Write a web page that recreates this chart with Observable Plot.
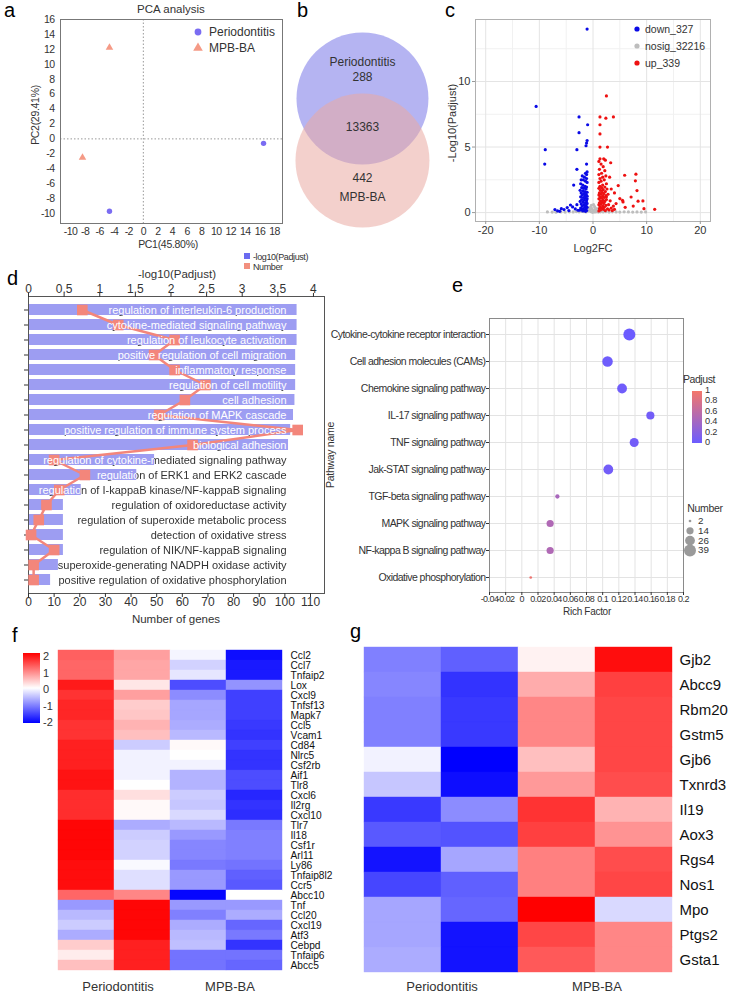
<!DOCTYPE html>
<html><head><meta charset="utf-8">
<script src="https://cdn.jsdelivr.net/npm/d3@7"></script>
<script src="https://cdn.jsdelivr.net/npm/@observablehq/plot@0.6"></script>
<style>
html,body{margin:0;padding:0;background:#fff;}
#root{position:relative;width:731px;height:992px;overflow:hidden;font-family:"Liberation Sans",Arial,Helvetica,sans-serif;color:#222;background:#fff;}
</style></head><body><div id="root"></div>
<script>
// ---------- DATA ----------
// a: PCA
const pcaGroup = ["Periodontitis", "Periodontitis", "MPB-BA", "MPB-BA"];
const pcaPC1 = [16.5, -4.65, -4.65, -8.35];
const pcaPC2 = [-0.6, -9.7, 12.25, -2.5];
const pcaLegend = ["Periodontitis", "MPB-BA"];
// b: Venn
const vennSets = ["Periodontitis", "MPB-BA"];
const vennCounts = [288, 13363, 442]; // only Periodontitis, shared, only MPB-BA
// c: volcano
const volcLegend = ["down_327", "nosig_32216", "up_339"];
const downPts = [[-1.1,14.0],[-10.6,8.1],[-8.9,4.8],[-9.0,3.7],[-2.6,7.3],[-1.0,6.7],[-2.6,6.1],[-1.1,5.5],[-1.2,5.3],[-1.3,5.1],[-3.0,4.8],[-1.2,3.7],[-3.0,3.3],[-3.6,2.1],
[-1.1,3.1],[-1.4,3.0],[-1.2,2.9],[-2.0,2.8],[-1.6,2.7],[-1.2,2.6],[-2.2,2.5],[-1.8,2.5],[-1.4,2.4],[-1.1,2.3],[-2.3,2.2],[-1.9,2.1],[-1.5,2.0],[-1.2,1.95],[-2.1,1.9],[-1.7,1.85],[-1.3,1.8],[-2.4,1.7],[-1.9,1.65],[-1.5,1.6],[-1.1,1.55],[-2.2,1.5],[-1.7,1.45],[-1.3,1.4],[-2.0,1.35],[-1.5,1.3],[-1.1,1.25],[-2.3,1.2],[-1.8,1.15],[-1.4,1.1],[-1.1,1.05],[-2.1,1.0],[-1.6,0.95],[-1.2,0.9],[-2.4,0.85],[-1.9,0.8],[-1.4,0.75],[-1.1,0.7],[-2.2,0.65],[-1.7,0.6],[-1.3,0.55],[-2.0,0.5],[-1.5,0.45],[-1.1,0.4],[-2.3,0.35],[-1.8,0.3],[-1.3,0.28],[-2.1,0.22],[-1.6,0.2],[-1.2,0.15],[-1.9,0.12],[-1.4,0.1],[-2.5,0.18],
[-7.1,0.23],[-6.6,0.13],[-5.9,0.3],[-5.4,0.23],[-4.8,0.38],[-4.2,0.58],[-3.8,0.43],[-3.3,0.28],[-2.8,0.18],[-4.5,0.15],[-6.2,0.1],[-3.0,0.6]];
const nosigPts = [[-8.5,0.05],[-7.6,0.04],[-6.9,0.03],[-6.0,0.05],[-5.2,0.04],[-4.4,0.06],[-3.7,0.05],[-3.1,0.08],[-2.6,0.06],[-2.1,0.1],[-1.7,0.08],[-1.3,0.05],[-0.9,0.12],[-0.6,0.2],[-0.4,0.08],[-0.2,0.3],[0,0.15],[0.2,0.05],[0.4,0.25],[0.6,0.1],[0.8,0.18],[1.0,0.04],[1.4,0.06],[1.9,0.05],[2.4,0.07],[3.0,0.04],[3.6,0.06],[4.3,0.05],[5.0,0.04],[5.8,0.06],[6.6,0.05],[7.4,0.04],[8.2,0.05],[9.0,0.04],[9.8,0.05],[-0.5,0.4],[0.3,0.45],[-0.8,0.35],[0.7,0.3],[0.1,0.6],[-0.3,0.55],[0.5,0.05],[-0.1,0.02]];
const upPts = [[2.5,8.9],[1.3,7.3],[2.4,7.2],[3.8,7.3],[1.3,6.7],[1.3,6.0],[1.3,5.0],[2.7,5.0],[1.3,4.1],[2.0,4.1],[2.3,4.0],[3.3,3.8],
[5.9,2.85],[8.0,2.93],[7.9,2.42],[4.7,2.06],[8.2,1.68],[7.1,1.19],[8.4,0.87],[9.3,0.89],[11.5,0.25],[5.5,0.94],[5.6,0.81],[4.3,0.69],[5.0,1.07],[3.1,2.7],[3.4,1.8],[2.5,1.2],[6.0,0.4],[7.5,0.5],[9.5,0.3],[4.0,1.5],
[1.1,3.9],[1.5,3.7],[1.9,3.5],[1.2,3.3],[2.2,3.2],[1.6,3.0],[1.1,2.9],[2.4,2.8],[1.8,2.7],[1.3,2.6],[2.1,2.5],[1.5,2.4],[1.1,2.3],[2.5,2.2],[1.8,2.1],[1.3,2.0],[2.2,1.95],[1.6,1.9],[1.1,1.85],[2.6,1.8],[1.9,1.75],[1.4,1.7],[2.3,1.6],[1.7,1.55],[1.2,1.5],[2.0,1.45],[1.5,1.4],[1.1,1.35],[2.4,1.3],[1.8,1.25],[1.3,1.2],[2.1,1.15],[1.6,1.1],[1.1,1.05],[2.5,1.0],[1.9,0.95],[1.4,0.9],[2.2,0.85],[1.7,0.8],[1.2,0.75],[2.0,0.7],[1.5,0.65],[1.1,0.6],[2.4,0.55],[1.8,0.5],[1.3,0.45],[2.1,0.4],[1.6,0.35],[1.2,0.3],[2.7,0.28],[1.9,0.25],[1.4,0.2],[2.3,0.15],[1.1,0.12],[3.0,0.2],[3.4,0.35],[2.9,0.6],[3.2,0.9],[2.8,1.4],[3.6,0.15],[4.0,0.25],[3.8,0.5]];
// d: GO enrichment
const goTerms = ["regulation of interleukin-6 production","cytokine-mediated signaling pathway","regulation of leukocyte activation","positive regulation of cell migration","inflammatory response","regulation of cell motility","cell adhesion","regulation of MAPK cascade","positive regulation of immune system process","biological adhesion","regulation of cytokine-mediated signaling pathway","regulation of ERK1 and ERK2 cascade","regulation of I-kappaB kinase/NF-kappaB signaling","regulation of oxidoreductase activity","regulation of superoxide metabolic process","detection of oxidative stress","regulation of NIK/NF-kappaB signaling","superoxide-generating NADPH oxidase activity","positive regulation of oxidative phosphorylation"];
const goPadj = [3.77,3.77,3.77,3.75,3.75,3.75,3.74,3.72,3.68,3.65,1.77,1.52,0.74,0.49,0.49,0.49,0.49,0.42,0.31];
const goCount = [21,35,57,49,57,69,61,51,105,64,10,22,12,7,4,1,10,2,2];
const goTopTicks = [0,0.5,1,1.5,2,2.5,3,3.5,4];
const goBottomTicks = [0,10,20,30,40,50,60,70,80,90,100,110];
// e: KEGG
const keggTerms = ["Cytokine-cytokine receptor interaction","Cell adhesion molecules (CAMs)","Chemokine signaling pathway","IL-17 signaling pathway","TNF signaling pathway","Jak-STAT signaling pathway","TGF-beta signaling pathway","MAPK signaling pathway","NF-kappa B signaling pathway","Oxidative phosphorylation"];
const keggRich = [0.133,0.106,0.124,0.159,0.139,0.107,0.044,0.035,0.035,0.011];
const keggPadj = [0.0,0.02,0.03,0.05,0.05,0.05,0.45,0.5,0.5,0.95];
const keggCount = [39,30,26,18,22,26,5,14,14,2];
const keggRichTicks = [-0.04,-0.02,0,0.02,0.04,0.06,0.08,0.1,0.12,0.14,0.16,0.18,0.2];
const keggPadjTicks = [1,0.8,0.6,0.4,0.2,0];
const keggCountTicks = [2,14,26,39];
// f: heatmap 1
const heatSamples = ["Periodontitis_1","Periodontitis_2","MPB-BA_1","MPB-BA_2"];
const heatGroups = ["Periodontitis","MPB-BA"];
const fGenes = ["Ccl2","Ccl7","Tnfaip2","Lox","Cxcl9","Tnfsf13","Mapk7","Ccl5","Vcam1","Cd84","Nlrc5","Csf2rb","Aif1","Tlr8","Cxcl6","Il2rg","Cxcl10","Tlr7","Il18","Csf1r","Arl11","Ly86","Tnfaip8l2","Ccr5","Abcc10","Tnf","Ccl20","Cxcl19","Atf3","Cebpd","Tnfaip6","Abcc5"];
const fZ = [[1.25,0.75,-0.08,-1.9],[1.2,0.7,-0.35,-1.8],[1.2,0.7,-0.2,-1.8],[1.8,0.2,-1.4,-0.85],[1.6,0.75,-0.9,-1.5],[1.7,0.4,-0.7,-1.5],[1.7,0.45,-0.7,-1.5],[1.6,0.6,-0.65,-1.55],[1.6,0.5,-0.55,-1.6],[1.75,-0.4,0.05,-1.5],[1.75,-0.1,0.0,-1.6],[1.75,-0.1,-0.1,-1.6],[1.85,-0.1,-0.6,-1.4],[1.85,0.0,-0.6,-1.4],[1.65,0.25,-0.4,-1.7],[1.65,0.05,-0.45,-1.6],[1.65,0.05,-0.3,-1.65],[1.95,-0.65,-0.55,-1.05],[1.95,-0.4,-0.8,-1.0],[1.95,-0.35,-0.95,-1.0],[1.95,-0.35,-0.95,-1.0],[1.9,-0.05,-1.05,-1.1],[1.9,-0.25,-0.8,-1.25],[1.9,-0.25,-0.8,-1.3],[1.2,0.95,-1.95,0.0],[-0.8,1.95,-0.8,-0.8],[-0.55,1.95,-1.0,-0.65],[-0.4,1.95,-0.65,-1.2],[-0.65,1.95,-0.55,-1.05],[0.4,1.75,-0.5,-1.6],[0.15,1.75,-1.1,-1.1],[0.5,1.75,-1.1,-1.2]];
const heatTicks = [2,1,0,-1,-2];
// g: heatmap 2
const gGenes = ["Gjb2","Abcc9","Rbm20","Gstm5","Gjb6","Txnrd3","Il19","Aox3","Rgs4","Nos1","Mpo","Ptgs2","Gsta1"];
const gZ = [[-1.0,-1.25,0.1,1.9],[-0.95,-1.6,0.65,1.5],[-1.0,-1.55,0.95,1.45],[-1.0,-1.55,0.95,1.45],[-0.1,-2.0,0.5,1.45],[-0.45,-1.9,0.8,1.4],[-1.55,-0.9,1.6,0.6],[-1.3,-1.35,1.5,0.85],[-1.85,-0.7,1.0,1.4],[-1.45,-1.25,1.0,1.45],[-0.7,-1.2,2.0,-0.3],[-0.7,-1.85,1.45,0.95],[-0.65,-1.85,1.3,0.95]];

// ---------- HELPERS ----------
const root = document.getElementById("root");
const FONT = '"Liberation Sans", Arial, Helvetica, sans-serif';
const base = {background: "transparent", fontFamily: FONT, overflow: "visible", color: "#333"};
const ns = "http://www.w3.org/2000/svg";
function place(svg, left, top) {
  svg.style.position = "absolute"; svg.style.left = left + "px"; svg.style.top = top + "px";
  root.appendChild(svg); return svg;
}
function label(text, x, y, o = {}) {
  const d = document.createElement("div");
  d.textContent = text;
  const size = o.size || 12;
  const tx = (o.anchor || "middle") === "middle" ? "-50%" : o.anchor === "end" ? "-100%" : "0";
  d.style.cssText = `position:absolute;white-space:nowrap;font-size:${size}px;line-height:1;color:${o.color || "#333"};letter-spacing:${o.ls || 0}px;left:${x}px;top:${y}px;transform:translate(${tx},-50%)${o.rotate ? ` rotate(${o.rotate}deg)` : ""};`;
  root.appendChild(d); return d;
}
function letter(ch, x, baseline) {
  const d = document.createElement("div");
  d.textContent = ch;
  d.style.cssText = `position:absolute;font-size:20px;line-height:1;color:#000;left:${x}px;top:${baseline - 0.8465 * 20}px;`;
  root.appendChild(d);
}
function miniSvg(left, top, w, h) {
  const s = d3.create("svg").attr("width", w).attr("height", h)
    .style("position", "absolute").style("left", left + "px").style("top", top + "px").style("overflow", "visible");
  root.appendChild(s.node()); return s;
}
const hy = d => String(d);

// ---------- a: PCA ----------
const pcaData = pcaGroup.map((g, i) => ({group: g, pc1: pcaPC1[i], pc2: pcaPC2[i]}));
const pcaColor = {"Periodontitis": "#7a6cf2", "MPB-BA": "#f59a86"};
place(Plot.plot({
  width: 290, height: 252, marginLeft: 60, marginRight: 8, marginTop: 19, marginBottom: 29,
  style: {...base, fontSize: "10.5px", letterSpacing: "-0.6px"},
  x: {domain: [-11.37, 19.1]},
  y: {domain: [-11.34, 16]},
  marks: [
    Plot.ruleX([0], {stroke: "#999", strokeDasharray: "1.5,2"}),
    Plot.ruleY([0], {stroke: "#999", strokeDasharray: "1.5,2"}),
    Plot.frame({stroke: "#777"}),
    Plot.axisX({ticks: d3.range(-10, 19, 2), tickSize: 0, tickPadding: 4, tickFormat: hy, label: null}),
    Plot.axisY({ticks: d3.range(-10, 17, 2), tickSize: 0, tickPadding: 6, tickFormat: hy, label: null}),
    Plot.dot(pcaData.filter(d => d.group === pcaLegend[0]), {x: "pc1", y: "pc2", r: 2.7, fill: pcaColor[pcaLegend[0]]}),
    Plot.dot(pcaData.filter(d => d.group === pcaLegend[1]), {x: "pc1", y: "pc2", r: 2.8, symbol: "triangle", fill: pcaColor[pcaLegend[1]]})
  ]
}), 0, 0);

// ---------- b: Venn ----------
const vennCircles = [{set: vennSets[0], cx: 0, cy: 0.47}, {set: vennSets[1], cx: 0, cy: -0.47}];
const vennText = [
  {t: vennSets[0], x: 0, y: 1.015}, {t: String(vennCounts[0]), x: 0, y: 0.80},
  {t: String(vennCounts[1]), x: 0, y: 0.03},
  {t: String(vennCounts[2]), x: 0, y: -0.74}, {t: vennSets[1], x: 0, y: -1.03}
];
place(Plot.plot({
  width: 145, height: 232, margin: 0,
  style: {...base, fontSize: "12px"},
  x: {domain: [-1.09, 1.106], axis: null},
  y: {domain: [-1.56, 1.955], axis: null},
  marks: [
    Plot.dot(vennCircles.slice(0, 1), {x: "cx", y: "cy", r: 66, fill: "#b5b4f2"}),
    Plot.dot(vennCircles.slice(1), {x: "cx", y: "cy", r: 67, fill: "#eaa9a3", fillOpacity: 0.55}),
    Plot.text(vennText, {x: "x", y: "y", text: "t", fill: "#333", fontSize: 12})
  ]
}), 290, 0);

// ---------- c: volcano ----------
const toObj = a => a.map(([x, y]) => ({x, y}));
place(Plot.plot({
  width: 291, height: 256, marginLeft: 35, marginRight: 21, marginTop: 19, marginBottom: 35,
  style: {...base, fontSize: "11px"},
  x: {domain: [-21.9, 21.9]},
  y: {domain: [-0.68, 14.73]},
  marks: [
    Plot.gridX({ticks: [-15, -5, 5, 15], stroke: "#f1f1f1", strokeOpacity: 1}),
    Plot.gridY({ticks: [2.5, 7.5, 12.5], stroke: "#f1f1f1", strokeOpacity: 1}),
    Plot.gridX({ticks: [-20, -10, 0, 10, 20], stroke: "#e4e4e4", strokeOpacity: 1}),
    Plot.gridY({ticks: [0, 5, 10], stroke: "#e4e4e4", strokeOpacity: 1}),
    Plot.dot(toObj(nosigPts), {x: "x", y: "y", r: 1.6, fill: "#bdbdbd"}),
    Plot.dot(toObj(downPts), {x: "x", y: "y", r: 1.6, fill: "#0a0ae6"}),
    Plot.dot(toObj(upPts), {x: "x", y: "y", r: 1.6, fill: "#ee1111"}),
    Plot.frame({stroke: "#b0b0b0"}),
    Plot.axisX({ticks: [-20, -10, 0, 10, 20], tickSize: 3, tickPadding: 2, stroke: "#999", tickFormat: hy, label: null}),
    Plot.axisY({ticks: [0, 5, 10], tickSize: 3, tickPadding: 2, stroke: "#999", label: null})
  ]
}), 440, 0);

// ---------- d: GO bar + line ----------
const goData = goTerms.map((t, i) => ({term: t, padj: goPadj[i], count: goCount[i]}));
const dBox = {width: 340, height: 400, marginLeft: 28, marginRight: 16, marginTop: 66, marginBottom: 37};
const yBand = {type: "band", domain: goTerms, paddingInner: 0.25, paddingOuter: 0.3};
const svgD1 = place(Plot.plot({
  ...dBox, style: {...base, fontSize: "12px"},
  x: {domain: [0, 4.155]},
  y: yBand,
  marks: [
    Plot.barX(goData, {x: "padj", y: "term", fill: "#9d9df2"}),
    Plot.frame({stroke: "#555"}),
    Plot.axisX({anchor: "top", ticks: goTopTicks, tickSize: 4, tickPadding: 0, tickFormat: hy, label: null}),
    Plot.axisY({tickSize: 4, tickFormat: () => "", label: null})
  ]
}), 0, 230);
const svgD2 = place(Plot.plot({
  ...dBox, style: {...base, fontSize: "12px"},
  x: {domain: [0, 115.46]},
  y: {...yBand, axis: null},
  marks: [
    Plot.axisX({anchor: "bottom", ticks: goBottomTicks, tickSize: 4, tickPadding: 0, label: null}),
    Plot.line(goData, {x: "count", y: "term", stroke: "#f3867b", strokeWidth: 2.5}),
    Plot.dot(goData, {x: "count", y: "term", symbol: "square", r: 6, fill: "#f3867b"}),
    Plot.text(goData, {y: "term", text: "term", frameAnchor: "right", dx: -38, textAnchor: "end", fill: "#333", fontSize: 11}),
    Plot.text(goData, {y: "term", text: "term", frameAnchor: "right", dx: -38, textAnchor: "end", fill: "#ffffff", fontSize: 11})
  ]
}), 0, 230);
(function () {
  const barG = svgD1.querySelector('g[aria-label="bar"]');
  const rects = [...barG.querySelectorAll("rect")];
  const gT = barG.getAttribute("transform");
  const defs = document.createElementNS(ns, "defs");
  const clip = document.createElementNS(ns, "clipPath"); clip.setAttribute("id", "dbarclip");
  const mask = document.createElementNS(ns, "mask"); mask.setAttribute("id", "dbarmask");
  mask.setAttribute("maskUnits", "userSpaceOnUse");
  mask.setAttribute("x", 0); mask.setAttribute("y", 0); mask.setAttribute("width", 340); mask.setAttribute("height", 400);
  const full = document.createElementNS(ns, "rect");
  full.setAttribute("x", 0); full.setAttribute("y", 0); full.setAttribute("width", 340); full.setAttribute("height", 400); full.setAttribute("fill", "white");
  mask.appendChild(full);
  rects.forEach(r => {
    const c = r.cloneNode(); if (gT) c.setAttribute("transform", gT); clip.appendChild(c);
    const m = r.cloneNode(); m.setAttribute("fill", "black"); if (gT) m.setAttribute("transform", gT); mask.appendChild(m);
  });
  defs.appendChild(clip); defs.appendChild(mask);
  svgD2.insertBefore(defs, svgD2.firstChild);
  const texts = svgD2.querySelectorAll('g[aria-label="text"]');
  const wrap = (el, attr, val) => { const g = document.createElementNS(ns, "g"); g.setAttribute(attr, val); el.parentNode.insertBefore(g, el); g.appendChild(el); };
  if (texts.length >= 2) { wrap(texts[0], "mask", "url(#dbarmask)"); wrap(texts[1], "clip-path", "url(#dbarclip)"); }
})();

// ---------- e: KEGG dot plot ----------
const keggData = keggTerms.map((t, i) => ({term: t, rich: keggRich[i], padj: keggPadj[i], count: keggCount[i]}));
const keggColorRange = ["#6c5cff", "#f4766a"];
const keggRMax = 6;
place(Plot.plot({
  width: 413, height: 345, marginLeft: 171, marginRight: 48, marginTop: 38, marginBottom: 33,
  style: {...base, fontSize: "10px", letterSpacing: "-0.55px"},
  x: {domain: [-0.04, 0.2]},
  y: {type: "point", domain: keggTerms, padding: 0.5},
  r: {domain: [0, 39], range: [0, keggRMax]},
  color: {type: "linear", domain: [0, 1], range: keggColorRange, interpolate: "rgb"},
  marks: [
    Plot.gridX({ticks: keggRichTicks, stroke: "#e3e3e3", strokeOpacity: 1}),
    Plot.gridY({stroke: "#e3e3e3", strokeOpacity: 1}),
    Plot.frame({stroke: "#8a8a8a"}),
    Plot.axisX({ticks: keggRichTicks, tickSize: 3, tickPadding: 0, fontSize: 9, tickFormat: d => String(+d.toFixed(2)), label: null}),
    Plot.axisY({tickSize: 3, tickPadding: 1, fontSize: 10.5, label: null}),
    Plot.dot(keggData, {x: "rich", y: "term", r: "count", fill: "padj"})
  ]
}), 318, 280);

// ---------- f & g: heatmaps ----------
const heatColor = {type: "linear", domain: [-2, 0, 2], range: ["#0000ff", "#ffffff", "#ff0000"], interpolate: "rgb", clamp: true};
function heat(genes, Z, opts) {
  const cells = genes.flatMap((g, i) => heatSamples.map((s, j) => ({gene: g, sample: s, z: Z[i][j]})));
  return Plot.plot({
    ...opts,
    style: {...base, fontSize: opts.fs + "px"},
    x: {type: "band", domain: heatSamples, padding: 0, axis: null},
    y: {type: "band", domain: genes, padding: 0},
    color: heatColor,
    marks: [
      Plot.cell(cells, {x: "sample", y: "gene", fill: "z", stroke: "z", strokeWidth: 0.4, inset: 0}),
      Plot.axisY({anchor: "right", tickSize: 0, tickPadding: 7, label: null, fill: "#111"})
    ]
  });
}
place(heat(fGenes, fZ, {width: 360, height: 362, marginLeft: 56, marginRight: 77, marginTop: 14, marginBottom: 17, fs: 10.2}), 0, 630);
place(heat(gGenes, gZ, {width: 376, height: 362, marginLeft: 8, marginRight: 59, marginTop: 14, marginBottom: 17, fs: 15}), 355, 630);

// ---------- TEXT / LEGENDS ----------
// a
letter("a", 4, 17);
label("PCA analysis", 171, 10, {size: 11.5});
label("PC1(45.80%)", 168, 244, {size: 10.5, ls: -0.3});
label("PC2(29.41%)", 35, 115, {size: 10.5, ls: -0.3, rotate: -90});
{
  const s = miniSvg(190, 24, 16, 32);
  s.append("circle").attr("cx", 8).attr("cy", 8).attr("r", 3.4).attr("fill", pcaColor[pcaLegend[0]]);
  s.append("path").attr("d", d3.symbol(d3.symbolTriangle, 40)()).attr("transform", "translate(8,24)").attr("fill", pcaColor[pcaLegend[1]]);
  label(pcaLegend[0], 209, 32, {anchor: "start", size: 12});
  label(pcaLegend[1], 209, 48, {anchor: "start", size: 12});
}
// b
letter("b", 297, 17);
// c
letter("c", 445, 17);
label("-Log10(Padjust)", 452, 123, {size: 11, rotate: -90});
label("Log2FC", 593, 248, {size: 11});
{
  const cols = ["#0a0ae6", "#bdbdbd", "#ee1111"];
  const s = miniSvg(631, 22, 12, 48);
  volcLegend.forEach((t, i) => {
    s.append("circle").attr("cx", 6).attr("cy", 7 + i * 17).attr("r", 2.6).attr("fill", cols[i]);
    label(t, 645, 29 + i * 17, {anchor: "start", size: 10.5});
  });
}
// d
letter("d", 7, 285);
label("-log10(Padjust)", 177, 274.5, {size: 11.5});
label("Number of genes", 176, 620, {size: 11.5});
{
  const s = miniSvg(244, 253, 8, 16);
  s.append("rect").attr("x", 0).attr("y", 0).attr("width", 6).attr("height", 6).attr("fill", "#6b6bf0");
  s.append("rect").attr("x", 0).attr("y", 10).attr("width", 6).attr("height", 6).attr("fill", "#f2907f");
  label("-log10(Padjust)", 253, 257, {anchor: "start", size: 9, ls: -0.4});
  label("Number", 253, 267, {anchor: "start", size: 9, ls: -0.4});
}
// e
letter("e", 452, 292);
label("Pathway name", 330, 455, {size: 10.5, ls: -0.3, rotate: -90});
label("Rich Factor", 587, 612, {size: 10, ls: -0.3});
label("Padjust", 699, 379, {size: 10.5, ls: -0.4});
{
  const bar = document.createElement("div");
  bar.style.cssText = `position:absolute;left:692px;top:391px;width:10px;height:52px;background:linear-gradient(to top, ${keggColorRange[0]}, ${keggColorRange[1]});`;
  root.appendChild(bar);
  keggPadjTicks.forEach(v => label(String(v), 705, 391 + (1 - v) * 52, {anchor: "start", size: 9.2, ls: -0.2}));
  label("Number", 705, 508, {size: 10.5, ls: -0.3});
  const rS = d3.scaleSqrt().domain([0, 39]).range([0, keggRMax]);
  const ys = [521, 530.8, 540.6, 550.4];
  const s = miniSvg(680, 510, 20, 50);
  keggCountTicks.forEach((v, i) => {
    s.append("circle").attr("cx", 10).attr("cy", ys[i] - 510).attr("r", rS(v)).attr("fill", "#9a9a9a");
    label(String(v), 698, ys[i], {anchor: "start", size: 9.8});
  });
}
// f
letter("f", 12, 642);
{
  const bar = document.createElement("div");
  bar.style.cssText = "position:absolute;left:23px;top:653px;width:17px;height:70px;background:linear-gradient(to bottom,#ff0000,#ffffff,#0000ff);";
  root.appendChild(bar);
  heatTicks.forEach((v, i) => label(String(v), 43, 656 + i * 16.5, {anchor: "start", size: 11}));
  label(heatGroups[0], 118, 986, {size: 13});
  label(heatGroups[1], 230, 986, {size: 13});
}
// g
letter("g", 350, 638);
label(heatGroups[0], 442, 986, {size: 13});
label(heatGroups[1], 597, 986, {size: 13});
</script></body></html>
